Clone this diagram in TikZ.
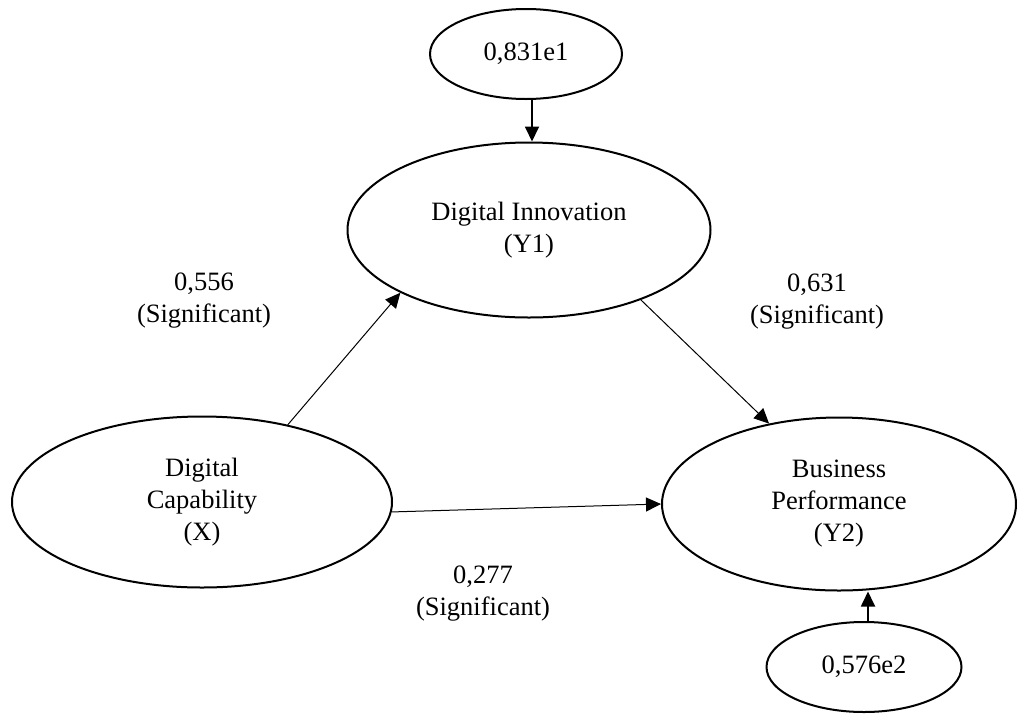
\documentclass[tikz,border=0pt]{standalone}
\usepackage{fontspec}
\setmainfont{Liberation Serif}
\usetikzlibrary{shapes.geometric,arrows.meta}

\begin{document}
\begin{tikzpicture}[x=0.5pt,y=-0.5pt,line cap=round,line join=round,
  font=\fontsize{13.25}{16}\selectfont,
  latent/.style={draw,ellipse,line width=1pt,inner sep=0pt,align=center},
  path/.style={line width=0.5pt,-{Triangle[length=7.5pt,width=7pt]}},
  errpath/.style={line width=0.9pt,-{Triangle[length=7.5pt,width=7pt]}},
  coef/.style={align=center}]
\useasboundingbox (0,0) rectangle (1017,713);

\coordinate (pE1) at (526,54);
\coordinate (pDI) at (529,230);
\coordinate (pDC) at (202,502);
\coordinate (pBP) at (839,504);
\coordinate (pE2) at (864,667);

% variabel laten
\node[latent,minimum width=96pt,minimum height=45pt] (e1) at (pE1) {0,831e1};
\node[latent,minimum width=181.5pt,minimum height=87.5pt] (DI) at (pDI) {Digital Innovation\\(Y1)};
\node[latent,minimum width=190pt,minimum height=85.5pt] (DC) at (pDC) {Digital\\Capability\\(X)};
\node[latent,minimum width=177pt,minimum height=86.5pt] (BP) at (pBP) {Business\\Performance\\(Y2)};
\node[latent,minimum width=97.5pt,minimum height=45pt] (e2) at (pE2) {0,576e2};

% jalur
\draw[errpath] ([xshift=3pt]e1.south) -- ([xshift=3pt]e1.south |- DI.north);
\draw[path] (DC.42) -- (DI.206);
\draw[path] (DI.328) -- (BP.131);
\draw[path] (DC.-3) -- (BP.west);
\draw[errpath] ([xshift=2pt]e2.north) -- ([xshift=2pt]e2.north |- BP.south);

% koefisien
\node[coef] (c1) at (204,301) {0,556\\(Significant)};
\node[coef] (c2) at (817,302) {0,631\\(Significant)};
\node[coef] (c3) at (483,594) {0,277\\(Significant)};
\end{tikzpicture}
\end{document}
